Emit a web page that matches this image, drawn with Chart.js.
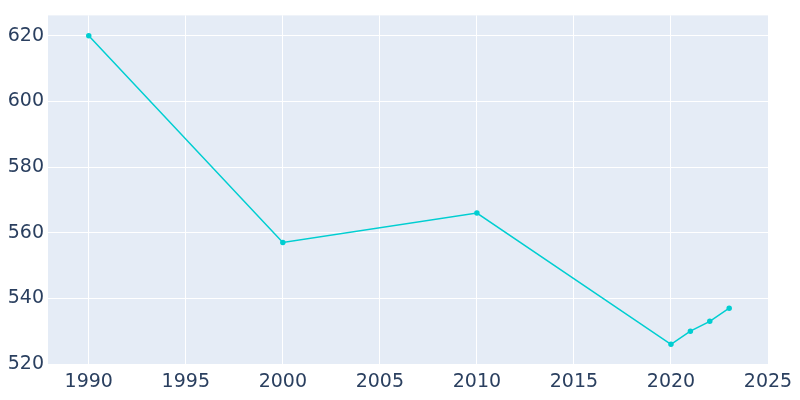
<!DOCTYPE html>
<html>
<head>
<script src="https://cdn.jsdelivr.net/npm/chart.js@4"></script>
<style>
  body { margin: 0; background: #fff; }
  #wrap { width: 800px; height: 400px; }
</style>
</head>
<body>
<div id="wrap"><canvas id="c"></canvas></div>
<script>
const years = [1990, 2000, 2010, 2020, 2021, 2022, 2023];
const population = [620, 557, 566, 526, 530, 533, 537];
const xTicks = [1990, 1995, 2000, 2005, 2010, 2015, 2020, 2025];
const yTicks = [520, 540, 560, 580, 600, 620];

const plotBg = {
    id: 'plotBg',
    beforeDraw(chart) {
        const { ctx, chartArea: a } = chart;
        ctx.save();
        ctx.fillStyle = '#e5ecf6';
        ctx.fillRect(a.left, a.top, a.right - a.left, a.bottom - a.top);
        ctx.restore();
    }
};

const tickFont = { family: 'DejaVu Sans', size: 19 };

new Chart(document.getElementById('c').getContext('2d'), {
    type: 'line',
    data: {
        datasets: [{
            data: years.map((y, i) => ({ x: y, y: population[i] })),
            borderColor: '#00ced1',
            backgroundColor: '#00ced1',
            borderWidth: 1.5,
            pointRadius: 2,
            tension: 0
        }]
    },
    options: {
        responsive: true,
        maintainAspectRatio: false,
        animation: false,
        layout: { padding: { top: -5, right: 32, left: 0, bottom: 0 } },
        plugins: { legend: { display: false }, tooltip: { enabled: false } },
        scales: {
            x: {
                type: 'linear', min: 1987.9, max: 2025,
                afterBuildTicks: s => { s.ticks = xTicks.map(v => ({ value: v })); },
                afterFit: s => { s.height = 35; },
                grid: { color: '#ffffff', lineWidth: 1, drawTicks: false },
                border: { display: false },
                ticks: { color: '#2a3f5f', font: tickFont, padding: 6, maxRotation: 0, callback: v => String(v) }
            },
            y: {
                min: 519.7, max: 626.2,
                afterBuildTicks: s => { s.ticks = yTicks.map(v => ({ value: v })); },
                afterFit: s => { s.width = 48; },
                grid: { color: '#ffffff', lineWidth: 1, drawTicks: false },
                border: { display: false },
                ticks: { color: '#2a3f5f', font: tickFont, padding: 4, callback: v => String(v) }
            }
        }
    },
    plugins: [plotBg]
});
</script>
</body>
</html>
